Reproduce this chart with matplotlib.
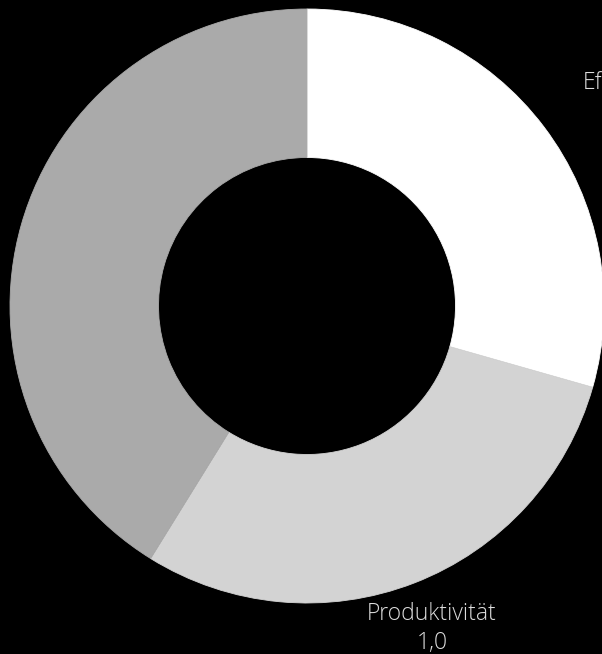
import numpy as np
import matplotlib
matplotlib.use("Agg")
import matplotlib.pyplot as plt

plt.rcParams['font.family'] = ['Open Sans', 'DejaVu Sans']

labels = ["Effizienz", "Produktivität", "Qualität"]
values = [1.0, 1.0, 1.4]
colors = ["#ffffff", "#d3d3d3", "#aaaaaa"]

W, H = 602, 654
cx, cy, R = 307, 306, 297

fig = plt.figure(figsize=(W / 100, H / 100), dpi=100, facecolor="black")
ax = fig.add_axes([0, 0, 1, 1])
ax.set_facecolor("black")

wedges, _ = ax.pie(values, colors=colors, startangle=90, counterclock=False, radius=1.0,
                   wedgeprops=dict(width=0.5, linewidth=0.6))
for w, c in zip(wedges, colors):
    w.set_edgecolor(c)

ax.set_xlim(-cx / R, (W - cx) / R)
ax.set_ylim(-(H - cy) / R, cy / R)
ax.set_aspect("equal")
ax.axis("off")

# labels outside the ring
total = sum(values)
start = 0.0
for lab, v in zip(labels, values):
    mid = (start + v / 2) / total * 2 * np.pi
    start += v
    x, y = 1.165 * np.sin(mid), 1.165 * np.cos(mid)
    if abs(x) < 0.45:
        ha = "center"
    elif x > 0:
        ha = "left"
    else:
        ha = "right"
    ax.text(x, y, f"{lab}\n{v:.1f}".replace(".", ","), ha=ha, va="center",
            multialignment="center", color="#dddddd", fontsize=16.5,
            fontweight="light", linespacing=1.25)

fig.savefig("out.png", dpi=100, facecolor="black")
